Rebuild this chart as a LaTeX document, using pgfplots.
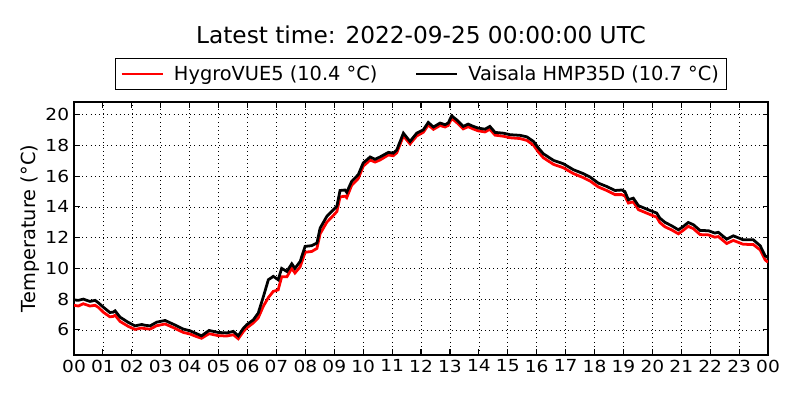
\documentclass[border=0pt]{standalone}
\usepackage{pgfplots}
\pgfplotsset{compat=1.18}
\usepackage{fontspec}
\setmainfont{DejaVu Sans}
\newfontfamily\tickfont[FakeStretch=1.12]{DejaVu Sans}
\begin{document}
\begin{tikzpicture}
\path[use as bounding box] (-53.5pt,-32.5pt) rectangle (524.7pt,256.5pt);
\begin{axis}[
  at={(0,0)}, anchor=south west,
  scale only axis, width=501.6pt, height=182.8pt,
  xmin=0, xmax=24, ymin=4.37, ymax=20.83,
  xtick={0,...,24},
  xticklabels={00,01,02,03,04,05,06,07,08,09,10,11,12,13,14,15,16,17,18,19,20,21,22,23,00},
  ytick={6,8,...,20},
  tick align=inside, major tick length=4pt,
  xtick pos=both, ytick pos=both,
  /pgf/number format/assume math mode=true,
  tick label style={font=\tickfont\fontsize{12}{14}\selectfont},
  grid=major,
  major grid style={black, line width=0.5pt, dash pattern=on 0.6pt off 2.4pt},
  axis line style={line width=1pt},
  every tick/.style={black, line width=0.8pt},
  legend columns=2,
  legend style={at={(0.5,1)}, anchor=south, yshift=8.7pt, draw=black, line width=0.8pt,
    font=\fontsize{14}{16}\selectfont, inner xsep=3.35pt, inner ysep=3pt,
    /tikz/every odd column/.append style={column sep=5.15pt},
    /tikz/every even column/.append style={column sep=24.9pt}},
  legend image code/.code={\draw[#1, line width=2pt] (0pt,0pt) -- (29.6pt,0pt);},
]
\addplot[red, line width=2pt] coordinates {
(0.0,7.6)(0.15,7.55)(0.32,7.7)(0.55,7.55)(0.73,7.6)(0.85,7.45)(1.01,7.15)(1.24,6.85)(1.35,6.87)(1.42,6.95)
(1.59,6.55)(1.88,6.22)(2.11,6.03)(2.34,6.12)(2.45,6.08)(2.63,6.05)(2.86,6.27)(3.15,6.38)(3.43,6.15)(3.78,5.83)
(4.01,5.73)(4.18,5.6)(4.41,5.45)(4.67,5.75)(4.99,5.62)(5.28,5.6)(5.51,5.68)(5.68,5.42)(5.86,5.9)(5.97,6.12)
(6.2,6.45)(6.37,6.78)(6.55,7.55)(6.72,8.1)(6.89,8.5)(7.06,8.6)(7.18,9.45)(7.36,9.45)(7.53,10.0)(7.64,9.7)
(7.82,10.1)(7.99,11.05)(8.22,11.1)(8.4,11.3)(8.51,12.25)(8.74,13.0)(8.97,13.45)(9.09,13.7)(9.2,14.65)(9.37,14.7)
(9.43,14.6)(9.6,15.4)(9.83,15.85)(10.0,16.65)(10.24,17.05)(10.41,16.92)(10.58,17.05)(10.87,17.38)(11.04,17.33)(11.16,17.52)
(11.39,18.62)(11.62,18.1)(11.85,18.62)(12.08,18.86)(12.25,19.33)(12.43,19.05)(12.66,19.3)(12.83,19.2)(12.94,19.3)(13.06,19.76)
(13.23,19.5)(13.46,19.08)(13.63,19.22)(13.81,19.07)(13.98,18.95)(14.21,18.88)(14.38,19.05)(14.56,18.67)(14.85,18.6)(15.08,18.5)
(15.42,18.45)(15.66,18.33)(15.89,18.02)(16.06,17.57)(16.23,17.2)(16.58,16.77)(16.92,16.55)(17.27,16.17)(17.62,15.9)(17.85,15.68)
(18.13,15.3)(18.42,15.07)(18.71,14.8)(18.94,14.8)(19.05,14.72)(19.17,14.25)(19.34,14.33)(19.52,13.82)(19.8,13.6)(20.15,13.33)
(20.26,12.98)(20.44,12.7)(20.67,12.5)(20.9,12.25)(21.07,12.48)(21.24,12.74)(21.42,12.58)(21.65,12.2)(21.94,12.18)(22.16,12.03)
(22.28,12.07)(22.57,11.62)(22.8,11.82)(23.14,11.57)(23.49,11.55)(23.73,11.2)(23.9,10.55)(24.0,10.4)
};
\addlegendentry{HygroVUE5 (10.4 °C)}
\addplot[black, line width=2pt] coordinates {
(0.0,7.95)(0.15,7.92)(0.32,8.0)(0.55,7.85)(0.73,7.92)(0.85,7.75)(1.01,7.48)(1.24,7.13)(1.35,7.15)(1.42,7.24)
(1.59,6.83)(1.88,6.48)(2.11,6.26)(2.34,6.35)(2.45,6.3)(2.63,6.26)(2.86,6.5)(3.15,6.61)(3.43,6.37)(3.78,6.05)
(4.01,5.94)(4.18,5.8)(4.41,5.61)(4.67,5.96)(4.99,5.83)(5.28,5.8)(5.51,5.9)(5.68,5.61)(5.86,6.11)(5.97,6.33)
(6.2,6.65)(6.37,7.09)(6.55,8.17)(6.72,9.26)(6.89,9.48)(7.06,9.26)(7.18,10.0)(7.36,9.8)(7.53,10.3)(7.64,10.0)
(7.82,10.45)(7.99,11.43)(8.22,11.48)(8.4,11.65)(8.51,12.62)(8.74,13.38)(8.97,13.82)(9.09,14.05)(9.2,15.07)(9.37,15.1)
(9.43,14.95)(9.6,15.66)(9.83,16.1)(10.0,16.86)(10.24,17.25)(10.41,17.1)(10.58,17.25)(10.87,17.55)(11.04,17.5)(11.16,17.7)
(11.39,18.8)(11.62,18.26)(11.85,18.8)(12.08,19.02)(12.25,19.5)(12.43,19.2)(12.66,19.46)(12.83,19.35)(12.94,19.46)(13.06,19.93)
(13.23,19.67)(13.46,19.24)(13.63,19.39)(13.81,19.24)(13.98,19.13)(14.21,19.06)(14.38,19.24)(14.56,18.85)(14.85,18.8)(15.08,18.7)
(15.42,18.66)(15.66,18.56)(15.89,18.26)(16.06,17.83)(16.23,17.46)(16.58,17.03)(16.92,16.81)(17.27,16.42)(17.62,16.16)(17.85,15.94)
(18.13,15.55)(18.42,15.33)(18.71,15.07)(18.94,15.1)(19.05,15.0)(19.17,14.47)(19.34,14.57)(19.52,14.08)(19.8,13.86)(20.15,13.6)
(20.26,13.27)(20.44,12.99)(20.67,12.77)(20.9,12.51)(21.07,12.73)(21.24,12.99)(21.42,12.84)(21.65,12.47)(21.94,12.45)(22.16,12.3)
(22.28,12.35)(22.57,11.9)(22.8,12.12)(23.14,11.86)(23.49,11.86)(23.73,11.47)(23.9,10.82)(24.0,10.7)
};
\addlegendentry{Vaisala HMP35D (10.7 °C)}
\end{axis}
\node[rotate=90, font=\fontsize{14}{16}\selectfont] at (-31.8pt,91.4pt) {Temperature (°C)};
\node[font=\fontsize{16.8}{20}\selectfont] at (250.8pt,231.2pt) {Latest time: 2022-09-25 00:00:00 UTC};
\end{tikzpicture}
\end{document}
